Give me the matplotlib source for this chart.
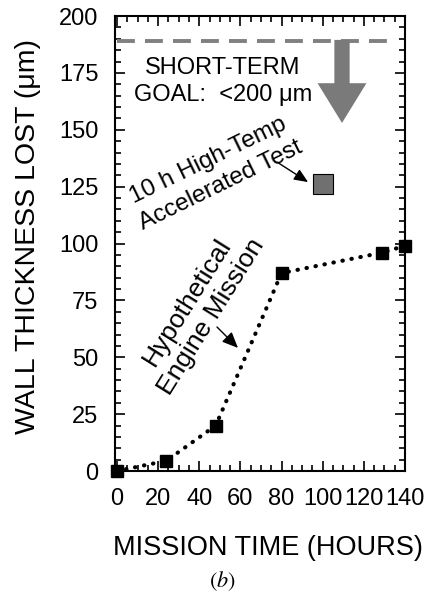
import numpy as np
import matplotlib
matplotlib.use("Agg")
import matplotlib.pyplot as plt
from matplotlib.ticker import MultipleLocator

plt.rcParams["font.family"] = ["Liberation Sans", "DejaVu Sans"]
plt.rcParams["mathtext.fontset"] = "stix"

# ----------------------------
# Data
# ----------------------------
mission_hours = [0, 24, 48, 80, 129, 140]
wall_lost_um = [0, 4.5, 20, 87, 96, 99]

accel_test_hours = [100]
accel_test_um = [126]

goal_level_um = 189
goal_line_x = [0, 136]

x_ticks = [0, 20, 40, 60, 80, 100, 120, 140]
y_ticks = [0, 25, 50, 75, 100, 125, 150, 175, 200]


def main():
    fig = plt.figure(figsize=(4.34, 5.95), dpi=100)
    ax = fig.add_axes([0.265, 0.2084, 0.668, 0.7647])

    # short-term goal dashed line
    ax.plot(goal_line_x, [goal_level_um] * 2, color="#808080", lw=2.8,
            dashes=(4.6, 2.6), solid_capstyle="butt", dash_capstyle="butt")

    # big downward arrow
    ax.annotate("", xy=(109.4, 153), xytext=(109.4, goal_level_um + 0.5),
                arrowprops=dict(arrowstyle="simple,head_length=2.6,head_width=3.2,tail_width=1.0",
                                mutation_scale=11, color="#7a7a7a",
                                shrinkA=0, shrinkB=0, lw=0))

    ax.text(51.5, 171.4, "SHORT-TERM\nGOAL:  <200 \u03bcm", ha="center", va="center",
            fontsize=17, linespacing=1.3)

    # hypothetical engine mission
    ax.plot(mission_hours, wall_lost_um, color="black", lw=3.0,
            dashes=(0.1, 2.1), dash_capstyle="round", zorder=3)
    ax.plot(mission_hours, wall_lost_um, "s", color="black", ms=9,
            clip_on=False, zorder=4)

    # accelerated test point
    ax.plot(accel_test_hours, accel_test_um, "s", color="#707070", mec="black",
            mew=0.8, ms=14.5, zorder=4)

    ax.text(47.2, 131, "10 h High-Temp\nAccelerated Test", rotation=26,
            ha="center", va="center", rotation_mode="anchor", fontsize=17.5,
            linespacing=1.35)
    ax.annotate("", xy=(92.9, 127), xytext=(77.8, 135.8),
                arrowprops=dict(arrowstyle="-|>,head_length=0.7,head_width=0.3",
                                mutation_scale=12, color="black", lw=1.0,
                                shrinkA=0, shrinkB=0))

    ax.text(39.9, 71, "Hypothetical\nEngine Mission", rotation=58,
            ha="center", va="center", rotation_mode="anchor", fontsize=19,
            linespacing=1.25)
    ax.annotate("", xy=(58.8, 54.1), xytext=(48.6, 63.3),
                arrowprops=dict(arrowstyle="-|>,head_length=0.8,head_width=0.35",
                                mutation_scale=12, color="black", lw=1.0,
                                shrinkA=0, shrinkB=0))

    # axes styling
    ax.set_xlim(-1, 140)
    ax.set_ylim(0, 200)
    ax.set_xticks(x_ticks)
    ax.set_yticks(y_ticks)
    ax.xaxis.set_minor_locator(MultipleLocator(5))
    ax.yaxis.set_minor_locator(MultipleLocator(5))
    ax.tick_params(which="both", direction="in", top=True, right=True,
                   width=1.2, labelsize=17)
    ax.tick_params(which="major", length=7, pad=12)
    ax.tick_params(which="minor", length=4)
    for s in ax.spines.values():
        s.set_linewidth(1.5)

    ax.set_ylabel("WALL THICKNESS LOST (\u03bcm)", fontsize=20.5)
    ax.yaxis.set_label_coords(-0.255, 0.516)
    ax.set_xlabel("MISSION TIME (HOURS)", fontsize=19.5)
    ax.xaxis.set_label_coords(0.528, -0.14)

    ax.text(0.37, -0.243, r"$(b)$", transform=ax.transAxes, ha="center",
            va="center", fontsize=16)

    fig.savefig("out.png", dpi=100)
    plt.close(fig)


if __name__ == "__main__":
    main()
